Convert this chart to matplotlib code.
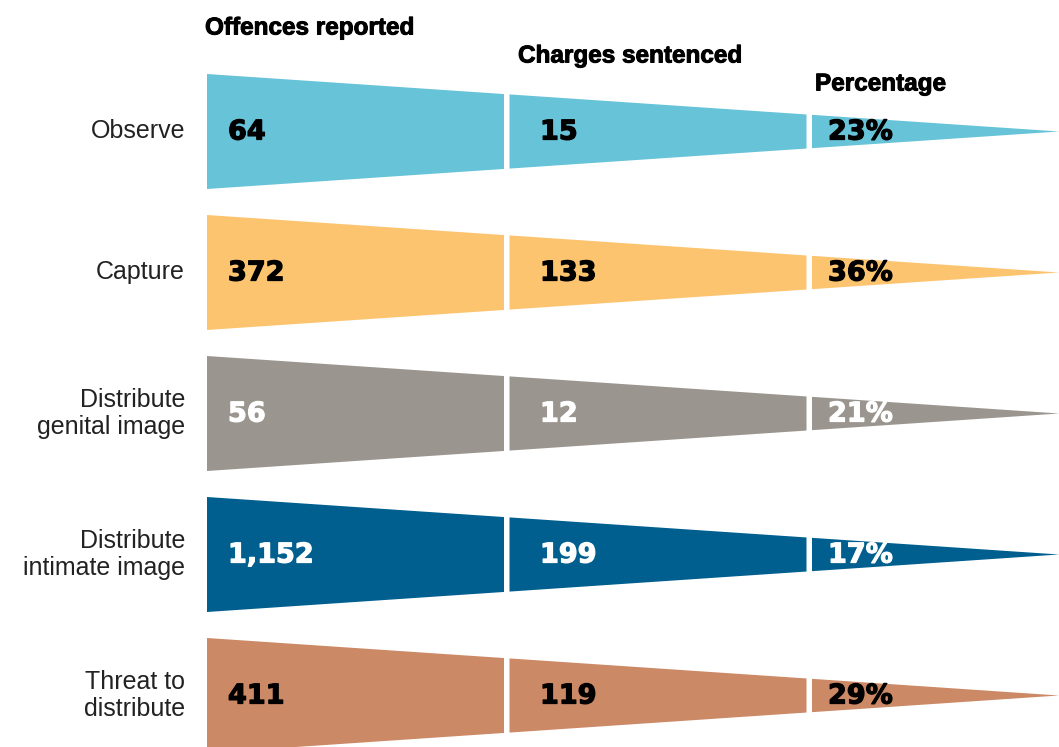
import matplotlib
matplotlib.use("Agg")
import matplotlib.pyplot as plt
import matplotlib.patheffects as pe
from matplotlib.patches import Polygon

categories = ["Observe", "Capture", "Distribute\ngenital image",
              "Distribute\nintimate image", "Threat to\ndistribute"]
offences_reported = [64, 372, 56, 1152, 411]
charges_sentenced = [15, 133, 12, 199, 119]
percentage = [23, 36, 21, 17, 29]
headers = ["Offences reported", "Charges sentenced", "Percentage"]

fills = ["#67C3D8", "#FDC470", "#9A958E", "#005F8F", "#CC8966"]
value_colors = ["black", "black", "white", "white", "black"]

W, H = 1059, 747
fig = plt.figure(figsize=(W / 100, H / 100), dpi=100)
ax = fig.add_axes([0, 0, 1, 1])
ax.set_xlim(0, W)
ax.set_ylim(H, 0)
ax.axis("off")

LABEL_FONT = "Liberation Sans"
VALUE_FONT = "DejaVu Sans"

# funnel geometry (pixel space)
x_left, x_tip = 207, 1059
half_h = 57.5
row0, row_step = 131.5, 141
segments = [(207, 504), (509.5, 806.5), (812, 1059)]
text_x = [228, 540, 828]
header_pos = [(205, 28), (518, 56), (815, 84)]


def half_height(x):
    return half_h * (x_tip - x) / (x_tip - x_left)


for i, cat in enumerate(categories):
    cy = row0 + i * row_step
    for (x0, x1) in segments:
        h0, h1 = half_height(x0), half_height(x1)
        poly = Polygon([(x0, cy - h0), (x1, cy - h1), (x1, cy + h1), (x0, cy + h0)],
                       closed=True, facecolor=fills[i], edgecolor="none")
        ax.add_patch(poly)
    labels = [f"{offences_reported[i]:,}", f"{charges_sentenced[i]:,}", f"{percentage[i]}%"]
    for tx, lab in zip(text_x, labels):
        ax.text(tx, cy + 1, lab, fontsize=19.5, fontweight="bold", family=VALUE_FONT,
                color=value_colors[i], ha="left", va="center",
                path_effects=[pe.withStroke(linewidth=0.9, foreground=value_colors[i])])
    ax.text(185, cy, cat, fontsize=18, family=LABEL_FONT, color="#222222",
            ha="right", va="center", linespacing=1.2)

for (hx, hy), hd in zip(header_pos, headers):
    ax.text(hx, hy, hd, fontsize=17.5, fontweight="bold", family=LABEL_FONT,
            color="black", ha="left", va="center",
            path_effects=[pe.withStroke(linewidth=0.7, foreground="black")])

fig.savefig("out.png", dpi=100)
